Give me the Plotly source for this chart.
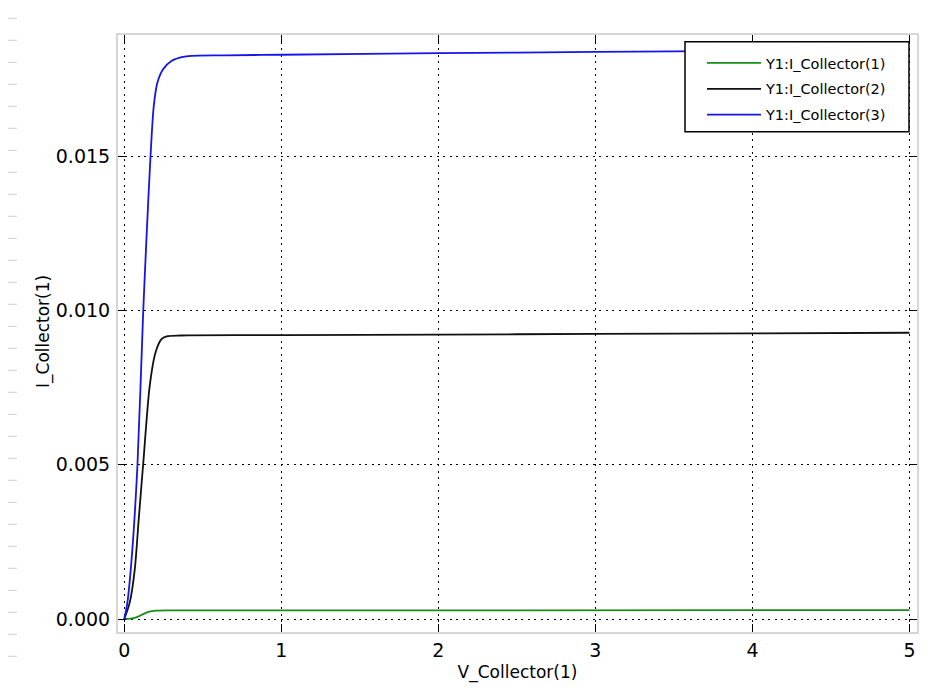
import plotly.graph_objects as go

# ---- data ----
v_blue = [0, 0.02, 0.05, 0.084, 0.12, 0.141, 0.167, 0.188, 0.211, 0.247, 0.30, 0.385, 0.64, 1.0, 2.0, 3.0, 4.0, 5.0]
i_blue = [0, 0.00054, 0.00216, 0.0050, 0.0099, 0.0123, 0.0150, 0.01664, 0.01739, 0.01782, 0.01809, 0.01823, 0.01827, 0.01829, 0.01834, 0.01838, 0.01842, 0.01846]

v_black = [0, 0.035, 0.067, 0.092, 0.12, 0.162, 0.199, 0.237, 0.27, 0.36, 1.0, 2.0, 3.0, 4.0, 5.0]
i_black = [0, 0.00054, 0.00162, 0.00324, 0.0050, 0.00756, 0.00864, 0.00907, 0.00916, 0.00919, 0.00920, 0.00922, 0.00924, 0.00926, 0.00928]

v_green = [0, 0.05, 0.08, 0.12, 0.16, 0.2, 0.3, 1.0, 5.0]
i_green = [0, 0.00002, 0.00006, 0.00016, 0.00024, 0.00027, 0.00028, 0.00028, 0.00029]

series_names = ["Y1:I_Collector(1)", "Y1:I_Collector(2)", "Y1:I_Collector(3)"]
series_colors = ["#1a8c1a", "#111111", "#1515e8"]

x_ticks = [0, 1, 2, 3, 4, 5]
y_ticks = [0.0, 0.005, 0.010, 0.015]
y_tick_labels = ["0.000", "0.005", "0.010", "0.015"]

x_title = "V_Collector(1)"
y_title = "I_Collector(1)"

fig = go.Figure()
for xs, ys, name, color in zip([v_green, v_black, v_blue], [i_green, i_black, i_blue], series_names, series_colors):
    fig.add_trace(go.Scatter(x=xs, y=ys, name=name, mode="lines", legendgroup=name,
                             line=dict(color=color, width=1.8, shape="spline", smoothing=0.8)))

axis_common = dict(
    showline=True, linecolor="#d6d6d6", linewidth=2, mirror="ticks",
    ticks="inside", ticklen=8, tickwidth=1, tickcolor="#000000",
    showgrid=True, gridcolor="#000000", gridwidth=1.3, griddash="2px,4.5px",
    zeroline=False, automargin=False,
    tickfont=dict(family="DejaVu Sans", size=19, color="#000000"),
)

fig.update_xaxes(range=[-0.04, 5.048], tickvals=x_ticks,
                 title=dict(text=x_title, font=dict(family="DejaVu Sans", size=17, color="#000"), standoff=6),
                 **axis_common)
fig.update_yaxes(range=[-0.00042, 0.01893], tickvals=y_ticks, ticktext=y_tick_labels, ticklabelstandoff=2,
                 **axis_common)

# page offset of the figure (body margin) and plot-area size
L, T, PW, PH = 110, 27, 799, 597
OFF = 8


def px_to_paper_x(px):
    return (px - OFF - L) / PW


def px_to_paper_y(py):
    return (T + PH - (py - OFF)) / PH


# y-axis title, placed as rotated text beside the tick labels
fig.add_annotation(text=y_title, xref="paper", yref="paper", x=px_to_paper_x(43), y=px_to_paper_y(332),
                   xanchor="center", yanchor="middle", textangle=-90, showarrow=False,
                   font=dict(family="DejaVu Sans", size=17, color="#000"))

# light gray dashes on the far left edge of the picture
shapes = []
for k in range(30):
    py = 18.3 + 22 * k
    yp = px_to_paper_y(py)
    shapes.append(dict(type="line", xref="paper", yref="paper",
                       x0=px_to_paper_x(0), x1=px_to_paper_x(17), y0=yp, y1=yp,
                       line=dict(color="#cfcfcf", width=1)))

# legend frame
shapes.append(dict(type="rect", xref="paper", yref="paper", layer="above",
                   x0=px_to_paper_x(685), x1=px_to_paper_x(909),
                   y0=px_to_paper_y(131.7), y1=px_to_paper_y(41.7),
                   fillcolor="#ffffff", line=dict(color="#000000", width=1.5)))

fig.update_layout(
    width=931, height=680,
    margin=dict(l=L, r=22, t=T, b=56),
    plot_bgcolor="#ffffff", paper_bgcolor="#ffffff",
    shapes=shapes,
    legend=dict(x=px_to_paper_x(702), y=px_to_paper_y(47), xanchor="left", yanchor="top",
                bgcolor="rgba(0,0,0,0)", borderwidth=0,
                font=dict(family="DejaVu Sans", size=14.5, color="#000"),
                tracegroupgap=4, traceorder="grouped", itemwidth=54),
    showlegend=True,
)

fig.write_html("out.html")
